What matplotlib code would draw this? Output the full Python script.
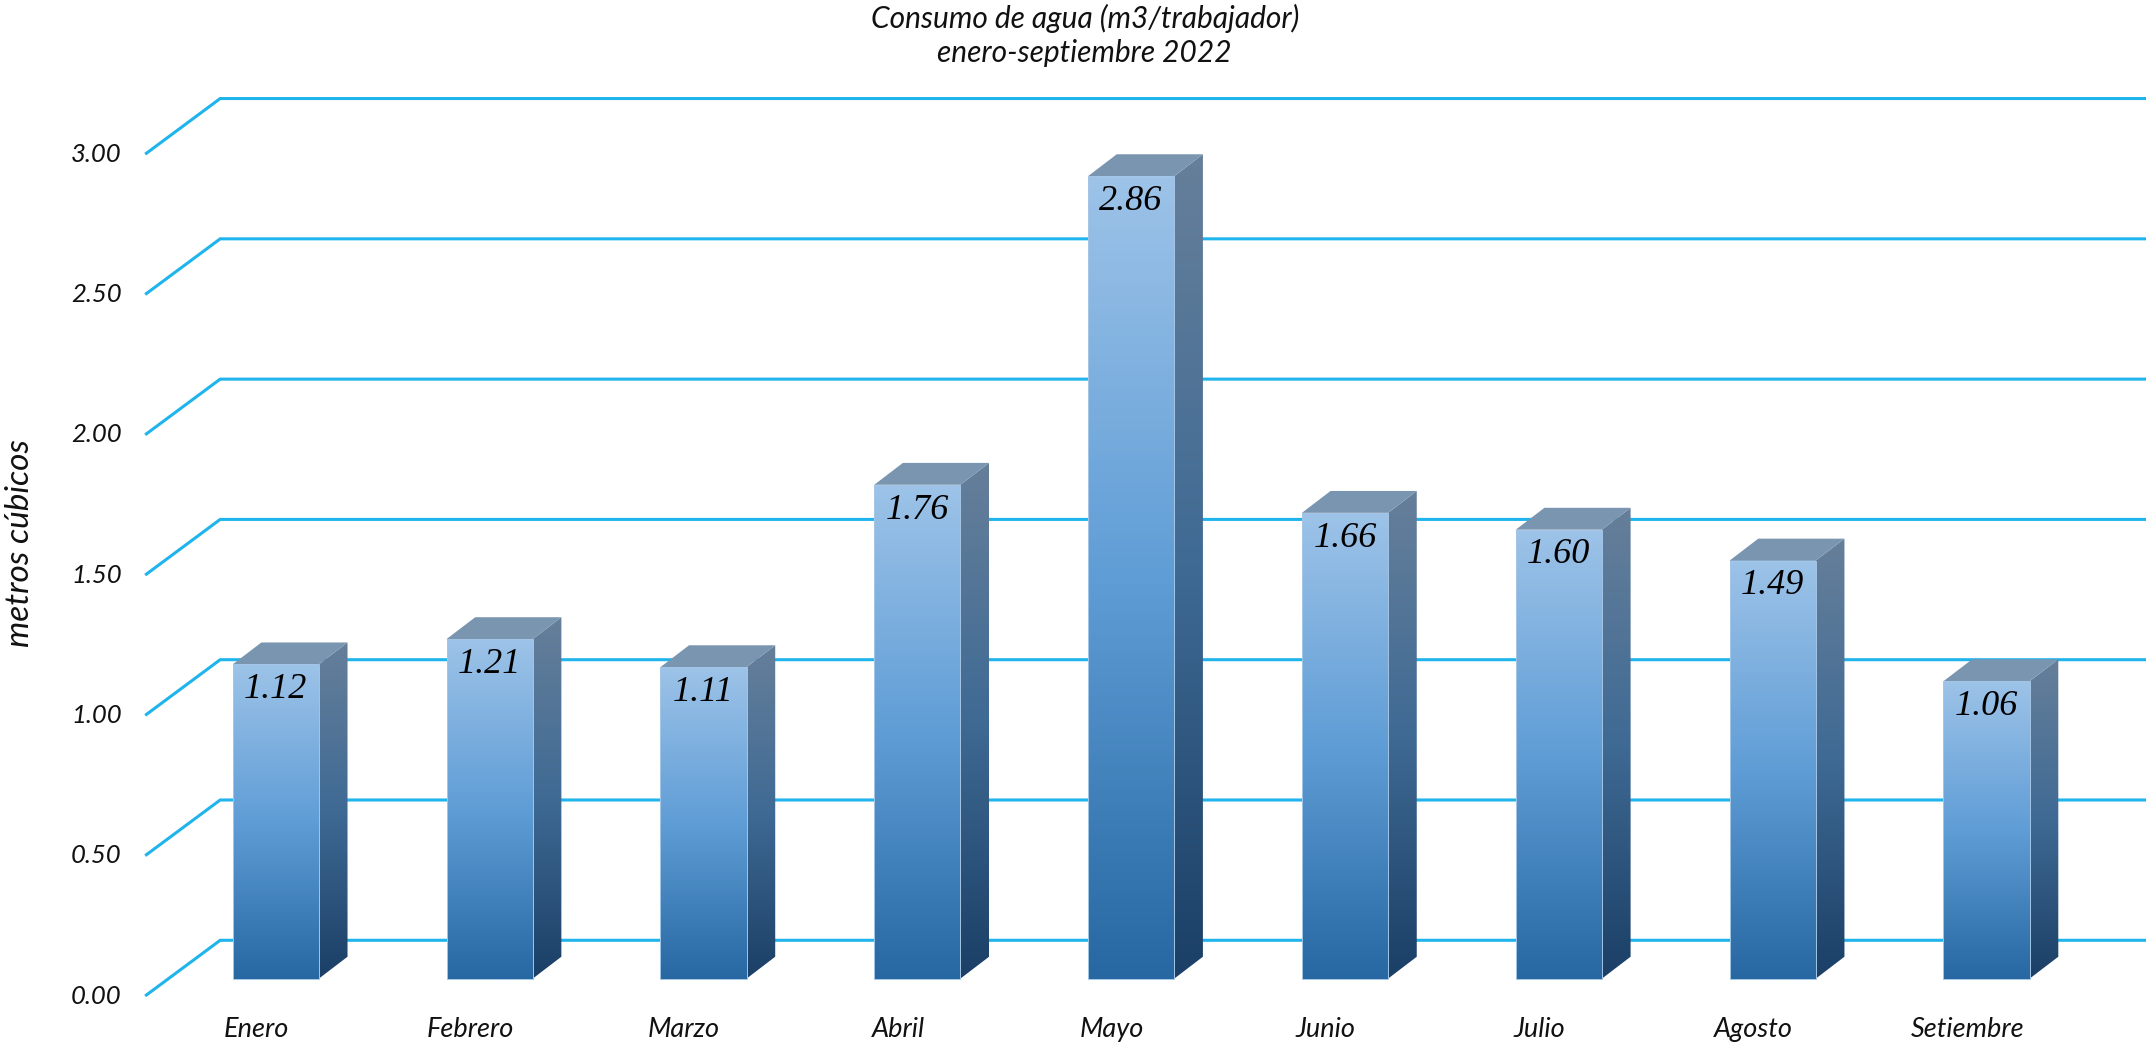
import matplotlib
matplotlib.use('Agg')
import matplotlib.pyplot as plt
import numpy as np
from matplotlib.colors import LinearSegmentedColormap
from matplotlib.patches import Polygon, Rectangle

meses = ['Enero', 'Febrero', 'Marzo', 'Abril', 'Mayo', 'Junio', 'Julio', 'Agosto', 'Setiembre']
consumo = [1.12, 1.21, 1.11, 1.76, 2.86, 1.66, 1.60, 1.49, 1.06]
ticks = [0.0, 0.5, 1.0, 1.5, 2.0, 2.5, 3.0]

plt.rcParams['font.family'] = 'Lato'

fig = plt.figure(figsize=(21.46, 10.45), dpi=100)
ax = fig.add_axes([0, 0, 1, 1])
ax.set_xlim(-1.2896, 8.7456)
ax.set_ylim(-0.2366, 3.4878)
ax.axis('off')

# 3d look, in data units
ancho = 0.403
dx = 0.134
dy = 0.078
frente = -0.0585
fondo = 0.1366
x_izq = -0.605
x_pared = -0.26

for t in ticks:
    ax.plot([x_izq, x_pared, 8.7456], [t + frente, t + fondo, t + fondo],
            color='#1FB4EC', lw=2.2, zorder=1, solid_joinstyle='miter')
    ax.text(-0.72, t + frente - 0.004, '%.2f' % t, ha='right', va='center',
            fontsize=18.5, style='italic', color='#111111')

cara = LinearSegmentedColormap.from_list('cara', ['#9DC3E8', '#5F9DD6', '#2768A2'])
lado = LinearSegmentedColormap.from_list('lado', ['#667F9A', '#3F6A94', '#1B3F66'])
grad = np.linspace(0, 1, 256).reshape(-1, 1)

for i, v in enumerate(consumo):
    x0 = i - ancho / 2
    x1 = i + ancho / 2
    # front
    ax.imshow(grad, cmap=cara, extent=[x0, x1, 0, v], aspect='auto', zorder=3)
    ax.add_patch(Rectangle((x0, 0), ancho, v, facecolor='none', edgecolor='#A5C6E6',
                           lw=0.7, zorder=3.5))
    # side
    im2 = ax.imshow(grad, cmap=lado, extent=[x1, x1 + dx, 0, v + dy], aspect='auto', zorder=3)
    clip = Polygon([(x1, 0), (x1 + dx, dy), (x1 + dx, v + dy), (x1, v)], transform=ax.transData)
    im2.set_clip_path(clip)
    ax.add_patch(Polygon([(x0, v), (x1, v), (x1 + dx, v + dy), (x0 + dx, v + dy)],
                         facecolor='#7A95B0', edgecolor='none', zorder=3))
    ax.text(i, v - 0.09, '%.2f' % v, ha='center', va='center', fontsize=26,
            family='Liberation Serif', style='italic', color='#000000', zorder=4)

for i, m in enumerate(meses):
    ax.text(i - 0.09, -0.18, m, ha='center', va='center', fontsize=19.5,
            style='italic', color='#111111')

fig.text(0.5055, 0.9965, 'Consumo de agua (m3/trabajador)', ha='center', va='top',
         fontsize=21.5, style='italic', color='#111111')
fig.text(0.5055, 0.9625, 'enero-septiembre 2022', ha='center', va='top',
         fontsize=21.5, style='italic', color='#111111')
fig.text(0.0095, 0.4805, 'metros cúbicos', rotation=90, ha='center', va='center',
         fontsize=24, style='italic', color='#111111')

fig.savefig('out.png', dpi=100)
